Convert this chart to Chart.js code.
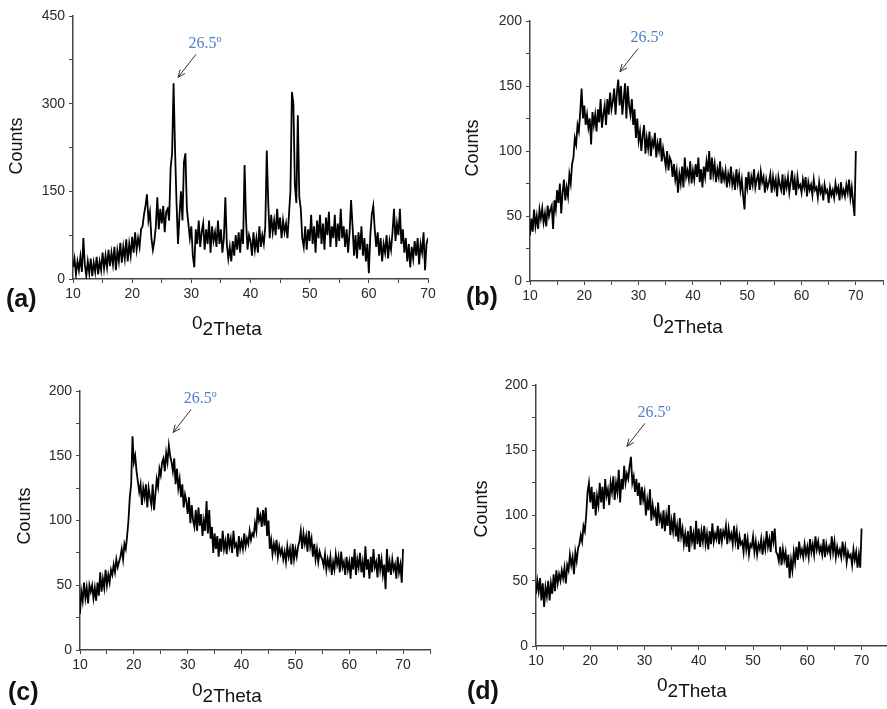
<!DOCTYPE html>
<html>
<head>
<meta charset="utf-8">
<script src="https://cdn.jsdelivr.net/npm/chart.js@4.4.1/dist/chart.umd.min.js"></script>
<style>
  html, body { margin: 0; padding: 0; background: #fff; overflow: hidden; }
  body { width: 887px; height: 709px; position: relative; }
  canvas { position: absolute; }
</style>
</head>
<body>
<canvas id="chartA"></canvas>
<canvas id="chartB"></canvas>
<canvas id="chartC"></canvas>
<canvas id="chartD"></canvas>
<script>
// XRD scans, 10-70 deg 2theta, read every 0.25 deg
const THETA_START = 10;
const THETA_STEP = 0.25;

const countsA = [
  20, 35, 8, 30, 15, 38, 12, 70,
  25, 5, 30, 10, 35, 5, 28, 12,
  38, 8, 30, 15, 45, 18, 40, 20,
  50, 22, 45, 25, 55, 15, 48, 30,
  62, 28, 55, 35, 68, 30, 60, 40,
  72, 45, 80, 50, 70, 55, 85, 90,
  110, 125, 145, 100, 115, 70, 50, 65,
  90, 140, 85, 120, 95, 125, 80, 115,
  120, 100, 190, 215, 335, 220, 130, 60,
  110, 150, 100, 200, 215, 120, 95, 70,
  90, 40, 20, 85, 60, 100, 55, 80,
  95, 50, 85, 60, 100, 45, 90, 65,
  80, 55, 100, 60, 85, 45, 70, 140,
  60, 35, 55, 30, 65, 40, 75, 50,
  80, 45, 85, 60, 195, 100, 50, 75,
  65, 40, 80, 50, 70, 45, 90, 55,
  75, 60, 90, 220, 130, 70, 110, 80,
  100, 75, 120, 85, 105, 70, 100, 80,
  95, 70, 110, 150, 320, 300, 160, 130,
  280, 140, 120, 70, 55, 90, 50, 85,
  65, 110, 60, 90, 45, 100, 70, 110,
  60, 95, 50, 105, 75, 115, 55, 90,
  70, 110, 55, 95, 65, 120, 70, 90,
  55, 85, 45, 80, 135, 90, 40, 75,
  35, 80, 50, 90, 40, 70, 30, 60,
  10, 75, 110, 125, 85, 55, 80, 40,
  70, 30, 60, 45, 75, 35, 65, 50,
  80, 120, 65, 95, 75, 120, 60, 85,
  45, 70, 30, 60, 20, 55, 35, 65,
  40, 70, 25, 60, 45, 80, 15, 60,
  70
];

const countsB = [
  35, 48, 38, 55, 42, 50, 40, 55,
  48, 56, 45, 52, 42, 58, 50, 55,
  58, 40, 62, 55, 70, 60, 75, 52,
  68, 78, 62, 72, 65, 82, 75, 90,
  95, 110, 105, 120, 115, 130, 148, 125,
  135, 120, 128, 118, 125, 105, 130, 120,
  128, 115, 132, 122, 140, 118, 128, 135,
  120, 140, 128, 145, 132, 138, 148, 128,
  145, 155, 135, 150, 128, 140, 152, 125,
  150, 135, 128, 140, 120, 132, 110, 125,
  108, 115, 100, 112, 120, 98, 110, 102,
  115, 96, 108, 104, 114, 95, 106, 100,
  110, 92, 102, 95, 88, 100, 85, 95,
  92, 80, 90, 78, 85, 68, 82, 75,
  88, 72, 95, 80, 85, 78, 92, 75,
  85, 78, 90, 80, 95, 76, 86, 72,
  88, 80, 92, 84, 100, 78, 95, 82,
  90, 76, 86, 80, 92, 75, 84, 78,
  85, 72, 82, 76, 88, 74, 80, 70,
  86, 75, 82, 70, 78, 65, 55, 80,
  72, 84, 70, 80, 74, 86, 72, 78,
  82, 70, 84, 76, 80, 68, 78, 72,
  76, 82, 68, 80, 72, 78, 65, 80,
  74, 70, 82, 66, 78, 72, 80, 68,
  76, 85, 70, 78, 66, 80, 72, 74,
  68, 78, 72, 80, 65, 76, 70, 74,
  66, 78, 70, 72, 64, 76, 68, 72,
  62, 74, 68, 70, 60, 72, 66, 70,
  64, 75, 68, 72, 62, 76, 66, 70,
  65, 74, 68, 78, 64, 72, 60, 50,
  100
];

const countsC = [
  28, 45, 38, 52, 40, 48, 36, 50,
  45, 50, 40, 48, 38, 52, 42, 60,
  45, 55, 48, 62, 50, 58, 52, 62,
  58, 66, 60, 70, 64, 68, 72, 78,
  70, 82, 78, 88, 100, 118, 128, 165,
  145, 150, 138, 130, 122, 128, 112, 125,
  118, 128, 110, 125, 118, 112, 128, 108,
  120, 132, 126, 140, 135, 145, 148, 138,
  152, 145, 158, 150, 145, 138, 148, 128,
  140, 125, 132, 118, 128, 110, 120, 115,
  105, 118, 98, 112, 100, 95, 108, 92,
  110, 96, 105, 88, 100, 92, 115, 90,
  108, 86, 95, 75, 90, 78, 88, 72,
  86, 76, 92, 78, 84, 74, 90, 80,
  86, 75, 92, 80, 82, 72, 88, 78,
  84, 78, 90, 80, 86, 82, 92, 85,
  90, 88, 98, 92, 110, 100, 104, 95,
  108, 96, 110, 88, 100, 78, 85, 74,
  82, 76, 85, 72, 80, 74, 78, 70,
  76, 68, 80, 72, 78, 66, 82, 70,
  78, 72, 80, 84, 92, 78, 90, 82,
  88, 76, 92, 80, 86, 72, 82, 70,
  78, 68, 76, 72, 70, 65, 74, 62,
  70, 64, 72, 58, 68, 62, 74, 66,
  72, 60, 76, 64, 68, 58, 72, 62,
  68, 55, 72, 62, 78, 58, 70, 64,
  75, 60, 68, 56, 80, 62, 70, 55,
  72, 60, 78, 64, 68, 56, 74, 62,
  70, 58, 66, 47, 78, 60, 68, 58,
  70, 62, 66, 55, 72, 60, 66, 52,
  78
];

const countsD = [
  40, 50, 42, 52, 35, 48, 30, 45,
  38, 50, 35, 48, 40, 55, 42, 58,
  48, 55, 50, 58, 52, 60, 48, 62,
  58, 70, 62, 68, 55, 72, 65, 75,
  78, 85, 80, 92, 88, 100, 118, 125,
  110, 122, 105, 118, 100, 115, 108, 125,
  110, 122, 105, 128, 115, 120, 108, 125,
  118, 130, 112, 125, 118, 135, 110, 128,
  120, 138, 125, 132, 128, 138, 145, 125,
  130, 118, 128, 115, 125, 108, 122, 112,
  118, 100, 112, 104, 120, 96, 108, 100,
  104, 92, 110, 96, 100, 90, 104, 88,
  100, 92, 108, 85, 96, 88, 102, 84,
  92, 80, 98, 84, 90, 78, 86, 76,
  88, 72, 92, 80, 86, 74, 96, 78,
  90, 76, 88, 80, 92, 78, 86, 74,
  88, 78, 94, 80, 86, 82, 92, 78,
  90, 80, 88, 84, 92, 78, 90, 82,
  86, 78, 92, 80, 88, 74, 84, 78,
  80, 72, 86, 74, 82, 70, 78, 76,
  84, 72, 80, 70, 78, 74, 82, 70,
  80, 74, 88, 76, 82, 72, 88, 80,
  90, 72, 70, 65, 76, 62, 74, 66,
  72, 60, 70, 52, 66, 58, 72, 64,
  76, 66, 80, 70, 74, 68, 78, 70,
  76, 68, 82, 72, 78, 70, 84, 74,
  80, 72, 76, 70, 82, 68, 78, 72,
  76, 70, 84, 72, 80, 68, 76, 70,
  74, 68, 80, 70, 76, 64, 72, 68,
  70, 62, 74, 66, 72, 60, 70, 60,
  90
];

const PEAK_LABEL = "26.5º";
const X_TITLE_SUP = "0";
const X_TITLE = "2Theta";
const Y_TITLE = "Counts";

// page layout: box = canvas [x, y, w, h], area = plot [left, top, right, bottom] in page px
const panels = [
  { id: "chartA", tag: "(a)", counts: countsA, yMax: 450, yStep: 75, yLabelStep: 150, xMax: 70,
    box: [0, 0, 443, 354], area: [73, 16, 428, 279],
    tagPos: [6, 307], countsPos: [17, 146], titlePos: [192, 335], arrowTip: [27.75, 345] },
  { id: "chartB", tag: "(b)", counts: countsB, yMax: 200, yStep: 25, yLabelStep: 50, xMax: 75,
    box: [443, 0, 444, 354], area: [530, 21, 883, 281],
    tagPos: [466, 305], countsPos: [473, 148], titlePos: [653, 333], arrowTip: [26.56, 161] },
  { id: "chartC", tag: "(c)", counts: countsC, yMax: 200, yStep: 25, yLabelStep: 50, xMax: 75,
    box: [0, 354, 443, 355], area: [80, 391, 430, 650],
    tagPos: [8, 700], countsPos: [25, 516], titlePos: [192, 702], arrowTip: [27.3, 168] },
  { id: "chartD", tag: "(d)", counts: countsD, yMax: 200, yStep: 25, yLabelStep: 50, xMax: 74.5,
    box: [443, 354, 444, 355], area: [536, 385, 886, 646],
    tagPos: [467, 699], countsPos: [482, 509], titlePos: [657, 697], arrowTip: [26.75, 153] },
];

const Y_AXIS_W = 45;
const X_AXIS_H = 30;
const AXIS_COLOR = "#444";
const TICK_FONT = { family: "'Liberation Sans', Arial, sans-serif", size: 14 };

const panelText = {
  id: "panelText",
  afterDraw(chart, args, opts) {
    const p = opts.panel;
    const ctx = chart.ctx;
    const ox = p.box[0], oy = p.box[1];
    ctx.save();
    ctx.fillStyle = "#111";

    // panel tag
    ctx.font = "bold 25px 'Liberation Sans', Arial, sans-serif";
    ctx.textAlign = "left";
    ctx.textBaseline = "alphabetic";
    ctx.fillText(p.tag, p.tagPos[0] - ox, p.tagPos[1] - oy);

    // x title with raised 0
    ctx.font = "19px 'Liberation Sans', Arial, sans-serif";
    const tx = p.titlePos[0] - ox, ty = p.titlePos[1] - oy;
    ctx.fillText(X_TITLE_SUP, tx, ty - 6);
    ctx.fillText(X_TITLE, tx + ctx.measureText(X_TITLE_SUP).width, ty);

    // y title
    ctx.font = "18px 'Liberation Sans', Arial, sans-serif";
    ctx.translate(p.countsPos[0] - ox, p.countsPos[1] - oy);
    ctx.rotate(-Math.PI / 2);
    ctx.textAlign = "center";
    ctx.textBaseline = "middle";
    ctx.fillText(Y_TITLE, 0, 0);
    ctx.restore();

    // arrow to the 26.5 peak
    const xs = chart.scales.x, ys = chart.scales.y;
    const tipX = xs.getPixelForValue(p.arrowTip[0]);
    const tipY = ys.getPixelForValue(p.arrowTip[1]);
    const sx = tipX + 18, sy = tipY - 23;
    ctx.save();
    ctx.strokeStyle = "#333";
    ctx.lineWidth = 1;
    ctx.beginPath();
    ctx.moveTo(sx, sy);
    ctx.lineTo(tipX, tipY);
    const ang = Math.atan2(tipY - sy, tipX - sx);
    const head = 8;
    ctx.moveTo(tipX - head * Math.cos(ang - 0.4), tipY - head * Math.sin(ang - 0.4));
    ctx.lineTo(tipX, tipY);
    ctx.lineTo(tipX - head * Math.cos(ang + 0.4), tipY - head * Math.sin(ang + 0.4));
    ctx.stroke();
    ctx.fillStyle = "#4f7fc4";
    ctx.font = "16px 'Liberation Serif', 'Times New Roman', serif";
    ctx.textAlign = "center";
    ctx.textBaseline = "middle";
    ctx.fillText(PEAK_LABEL, tipX + 27, tipY - 34);
    ctx.restore();
  },
};

function makeChart(p) {
  const canvas = document.getElementById(p.id);
  const [bx, by, bw, bh] = p.box;
  const [l, t, r, b] = p.area;
  canvas.width = bw;
  canvas.height = bh;
  canvas.style.left = bx + "px";
  canvas.style.top = by + "px";
  canvas.style.width = bw + "px";
  canvas.style.height = bh + "px";

  const points = p.counts.map((y, i) => ({ x: THETA_START + i * THETA_STEP, y }));

  return new Chart(canvas.getContext("2d"), {
    type: "line",
    data: {
      datasets: [
        {
          data: points,
          borderColor: "#000",
          borderWidth: 1.8,
          pointRadius: 0,
          tension: 0,
          fill: false,
        },
      ],
    },
    options: {
      responsive: false,
      animation: false,
      events: [],
      layout: {
        padding: {
          left: l - bx - Y_AXIS_W,
          top: t - by,
          right: bx + bw - r,
          bottom: by + bh - b - X_AXIS_H,
        },
      },
      plugins: {
        legend: { display: false },
        tooltip: { enabled: false },
        panelText: { panel: p },
      },
      scales: {
        x: {
          type: "linear",
          min: 10,
          max: p.xMax,
          afterFit: (s) => { s.height = X_AXIS_H; },
          ticks: {
            stepSize: 5,
            includeBounds: false,
            autoSkip: false,
            maxRotation: 0,
            padding: 3,
            color: "#2a2a2a",
            font: TICK_FONT,
            callback: (v) => (v % 10 === 0 ? v : ""),
          },
          grid: { drawOnChartArea: false, drawTicks: true, tickLength: 4, color: AXIS_COLOR },
          border: { color: AXIS_COLOR, width: 1.5 },
        },
        y: {
          min: 0,
          max: p.yMax,
          afterFit: (s) => { s.width = Y_AXIS_W; },
          ticks: {
            stepSize: p.yStep,
            autoSkip: false,
            padding: 4,
            color: "#2a2a2a",
            font: TICK_FONT,
            callback: (v) => (v % p.yLabelStep === 0 ? v : ""),
          },
          grid: { drawOnChartArea: false, drawTicks: true, tickLength: 4, color: AXIS_COLOR },
          border: { color: AXIS_COLOR, width: 1.5 },
        },
      },
    },
    plugins: [panelText],
  });
}

panels.forEach(makeChart);
</script>
</body>
</html>
